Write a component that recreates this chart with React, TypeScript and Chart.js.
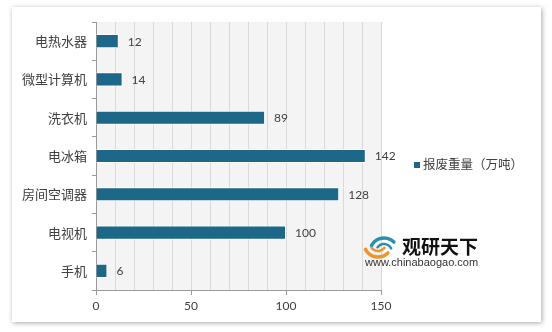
import React, { useEffect, useRef } from "react";
import { Chart, registerables } from "chart.js";

Chart.register(...registerables);

const categories = ["电热水器", "微型计算机", "洗衣机", "电冰箱", "房间空调器", "电视机", "手机"];
const values = [12, 14, 89, 142, 128, 100, 6];
const seriesName = "报废重量（万吨）";
const xTickLabels = [0, 50, 100, 150];

const BAR = "#1d6788";
const CJK = "'Noto Sans CJK SC', sans-serif";
const NUM = "Lato, 'Noto Sans CJK SC', sans-serif";

const bgPlugin = {
  id: "plotBg",
  beforeDraw(chart: any) {
    const { ctx, chartArea: a } = chart;
    ctx.save();
    ctx.fillStyle = "#f4f4f4";
    ctx.fillRect(a.left, a.top, a.right - a.left, a.bottom - a.top);
    ctx.restore();
  },
};

const labelPlugin = {
  id: "valueLabels",
  afterDatasetsDraw(chart: any) {
    const { ctx } = chart;
    const meta = chart.getDatasetMeta(0);
    ctx.save();
    ctx.fillStyle = "#404040";
    ctx.font = `12px ${NUM}`;
    ctx.textBaseline = "middle";
    ctx.textAlign = "left";
    meta.data.forEach((bar: any, i: number) => {
      ctx.fillText(String(values[i]), bar.x + 9, bar.y + 0.5);
    });
    ctx.restore();
  },
};

const extrasPlugin = {
  id: "extras",
  afterDraw(chart: any) {
    const { ctx } = chart;
    ctx.save();
    // legend
    ctx.fillStyle = BAR;
    ctx.fillRect(402, 155, 6, 6);
    ctx.fillStyle = "#404040";
    ctx.font = `12.5px ${CJK}`;
    ctx.textBaseline = "middle";
    ctx.textAlign = "left";
    ctx.fillText(seriesName, 411, 157.5);

    // watermark logo
    ctx.lineCap = "round";
    ctx.strokeStyle = "#2a8fb0";
    ctx.lineWidth = 3.5;
    ctx.beginPath();
    ctx.arc(372, 245, 14, Math.PI * 1.15, Math.PI * 1.75);
    ctx.stroke();
    ctx.lineWidth = 2.5;
    ctx.beginPath();
    ctx.arc(372, 245, 8, Math.PI * 1.2, Math.PI * 1.85);
    ctx.stroke();
    ctx.strokeStyle = "#f0932a";
    ctx.lineWidth = 3.5;
    ctx.beginPath();
    ctx.arc(366, 236, 14, Math.PI * 0.25, Math.PI * 0.85);
    ctx.stroke();
    ctx.lineWidth = 2.5;
    ctx.beginPath();
    ctx.arc(366, 236, 8, Math.PI * 0.2, Math.PI * 0.8);
    ctx.stroke();

    ctx.fillStyle = "#111";
    ctx.font = `bold 19px ${CJK}`;
    ctx.fillText("观研天下", 390, 240);
    ctx.fillStyle = "#333";
    ctx.font = "11px 'Liberation Sans', Arial, sans-serif";
    ctx.fillText("www.chinabaogao.com", 353, 256);
    ctx.restore();
  },
};

export default function App() {
  const ref = useRef<HTMLCanvasElement>(null);
  useEffect(() => {
    if (!ref.current) return;
    const chart = new Chart(ref.current, {
      type: "bar",
      data: {
        labels: categories,
        datasets: [
          {
            label: seriesName,
            data: values,
            backgroundColor: BAR,
            borderColor: "#ffffff",
            borderWidth: 1,
            barPercentage: 0.37,
            categoryPercentage: 1,
          },
        ],
      },
      options: {
        indexAxis: "y",
        animation: false,
        responsive: false,
        maintainAspectRatio: false,
        layout: { padding: { left: 0, right: 160, top: 15, bottom: 0 } },
        plugins: { legend: { display: false }, tooltip: { enabled: false } },
        scales: {
          x: {
            min: 0,
            max: 150,
            afterFit(scale: any) {
              scale.height = 32;
            },
            ticks: {
              stepSize: 10,
              autoSkip: false,
              maxRotation: 0,
              padding: 4,
              color: "#404040",
              font: { size: 12, family: NUM },
              callback: (v: any) => (xTickLabels.includes(Number(v)) ? String(v) : ""),
            },
            grid: {
              color: "#d9d9d9",
              lineWidth: 1,
              tickLength: 5,
              tickColor: (c: any) =>
                c.tick && xTickLabels.includes(Number(c.tick.value)) ? "#9a9a9a" : "rgba(0,0,0,0)",
            },
            border: { color: "#9a9a9a" },
          },
          y: {
            afterFit(scale: any) {
              scale.width = 84;
            },
            ticks: {
              padding: 5,
              color: "#404040",
              font: { size: 13, family: CJK },
            },
            grid: {
              drawOnChartArea: false,
              tickLength: 4,
              tickColor: "#9a9a9a",
              offset: true,
            },
            border: { color: "#9a9a9a" },
          },
        },
      },
      plugins: [bgPlugin, labelPlugin, extrasPlugin],
    });
    return () => chart.destroy();
  }, []);

  return (
    <div style={{ position: "absolute", left: 0, top: 0, width: 552, height: 332, background: "#fff", overflow: "hidden" }}>
      <div
        style={{
          position: "absolute",
          left: 12,
          top: 7,
          width: 529,
          height: 315,
          background: "#fff",
          boxShadow: "1px 1px 5px rgba(0,0,0,0.35)",
        }}
      >
        <canvas ref={ref} width={529} height={315} style={{ display: "block", width: 529, height: 315 }} />
      </div>
    </div>
  );
}
